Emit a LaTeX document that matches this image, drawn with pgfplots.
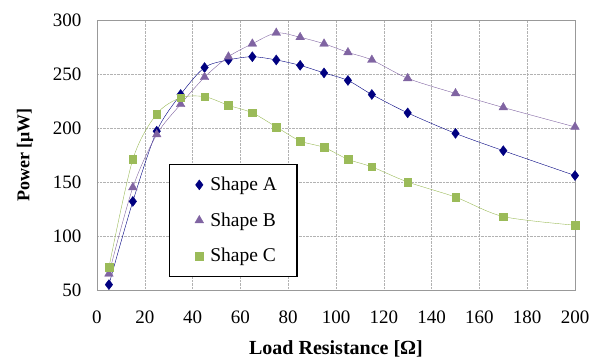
\documentclass[border=0pt]{standalone}
\usepackage{pgfplots}
\pgfplotsset{compat=1.18}
\usepackage{fontspec}
\setmainfont{Liberation Serif}
\definecolor{cA}{HTML}{000080}
\definecolor{cB}{HTML}{8064A2}
\definecolor{cC}{HTML}{9BBB59}
\begin{document}
\begin{tikzpicture}
\path[use as bounding box] (-97pt,-71pt) rectangle (508pt,290pt);
\begin{axis}[
  at={(0,0)}, anchor=south west,
  scale only axis, width=478pt, height=270pt,
  xmin=0, xmax=200, ymin=50, ymax=300,
  xtick={0,20,...,200}, ytick={50,100,...,300},
  grid=major,
  major grid style={gray!60, densely dotted},
  axis line style={gray!80},
  major tick length=0pt,
  tick label style={font=\fontsize{19}{21}\selectfont},
  /pgf/number format/assume math mode=true,
  xticklabel style={yshift=-17pt},
  yticklabel style={xshift=-12pt},
  xlabel={\textbf{Load Resistance [Ω]}},
  ylabel={\textbf{Power [μW]}},
  xlabel style={font=\fontsize{20}{22}\selectfont, at={(axis description cs:0.5,0)}, anchor=center, yshift=-59pt},
  ylabel style={font=\fontsize{18}{20}\selectfont, at={(axis description cs:0,0.5)}, anchor=center, yshift=72pt},
  legend style={at={(axis cs:30,62)}, anchor=south west, draw=black, line width=1.2pt,
    font=\fontsize{19.5}{21}\selectfont,
    row sep=16.5pt, inner xsep=18pt, inner ysep=11pt, cells={anchor=west}},
  legend image code/.code={\path[draw=none,fill=none] (-12pt,0pt) -- (9pt,0pt); \draw plot coordinates {(0pt,0pt)};},
]
\addplot[cA, thin, smooth, mark=diamond*, mark size=5pt, mark options={fill=cA, draw=cA, line width=0.4pt}] coordinates {
(5,55) (15,132) (25,197) (35,231) (45,256) (55,263) (65,266) (75,263) (85,258) (95,251) (105,244) (115,231) (130,214) (150,195) (170,179) (200,156)};
\addlegendentry{Shape A}
\addplot[cB, thin, smooth, mark=triangle*, mark size=5pt, mark options={fill=cB, draw=cB, line width=0.4pt}] coordinates {
(5,65) (15,145) (25,194) (35,222) (45,247) (55,266) (65,278) (75,288) (85,284) (95,278) (105,270) (115,263) (130,246) (150,232) (170,219) (200,201)};
\addlegendentry{Shape B}
\addplot[cC, thin, smooth, mark=square*, mark size=3.8pt, mark options={fill=cC, draw=cC, line width=0.4pt}] coordinates {
(5,71) (15,171) (25,213) (35,228) (45,229) (55,221) (65,214) (75,201) (85,188) (95,182) (105,171) (115,164) (130,150) (150,136) (170,118) (200,110)};
\addlegendentry{Shape C}
\end{axis}
\end{tikzpicture}
\end{document}
